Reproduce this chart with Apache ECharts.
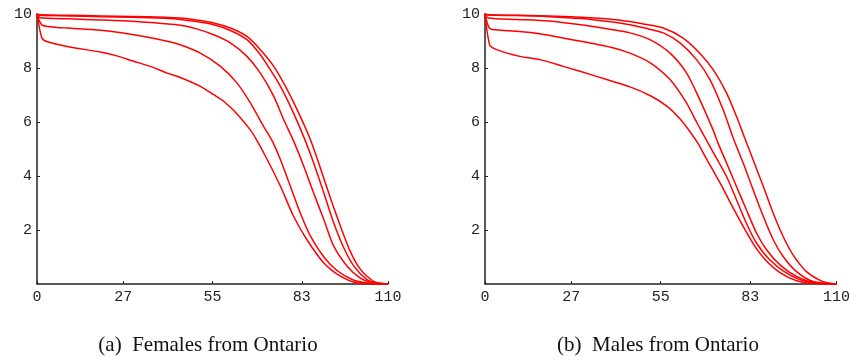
<!DOCTYPE html>
<html>
<head>
<meta charset="utf-8">
<script src="https://cdn.jsdelivr.net/npm/echarts@6/dist/echarts.min.js"></script>
<style>
html,body{margin:0;padding:0;background:#fff;}
#chart{width:853px;height:360px;}
</style>
</head>
<body>
<div id="chart"></div>
<script>
// Tick labels
var xTicks = [0, 27, 55, 83, 110];
var yTicks = [2, 4, 6, 8, 10];
var captions = ['(a)  Females from Ontario', '(b)  Males from Ontario'];

// Females from Ontario: [age, value] pairs
var females1 = [[0,10],[1,9.97],[10,9.95],[20,9.93],[30,9.91],[40,9.88],[45,9.85],[50,9.78],[55.4,9.67],[60.6,9.48],[65.8,9.17],[70,8.68],[74.2,8.06],[78.4,7.2],[82.5,6.21],[85.7,5.34],[88.8,4.3],[91.9,3.2],[95.1,2.14],[98.2,1.2],[101.3,0.55],[105.5,0.1],[110,0]];
var females2 = [[0,10],[1,9.95],[10,9.93],[20,9.9],[30,9.88],[40,9.84],[45,9.8],[50,9.72],[55.4,9.6],[60.6,9.39],[65.8,9.05],[70,8.49],[73.1,7.94],[76.3,7.32],[80.4,6.33],[84.1,5.3],[86.7,4.48],[89.9,3.37],[93,2.26],[96.1,1.35],[99.3,0.66],[103.4,0.16],[106,0.04],[110,0]];
var females3 = [[0,10],[1,9.86],[10,9.82],[20,9.78],[30,9.73],[40,9.64],[45,9.58],[50,9.45],[55.4,9.23],[60.6,8.93],[65.8,8.43],[70,7.81],[74.2,6.95],[77.3,6.09],[80.4,5.3],[83.6,4.36],[86.7,3.37],[89.9,2.38],[93,1.4],[97.2,0.66],[101.3,0.22],[105,0.05],[110,0]];
var females4 = [[0,10],[1.5,9.6],[5,9.52],[9.4,9.48],[19.9,9.4],[30.3,9.23],[40.8,8.99],[44.9,8.86],[51.2,8.55],[57.5,8.06],[62.7,7.44],[66.9,6.7],[71,5.84],[73.7,5.3],[76.3,4.6],[79.4,3.62],[82.5,2.63],[85.7,1.77],[89.9,1.0],[94,0.5],[99.3,0.14],[104,0.03],[110,0]];
var females5 = [[0,10],[1.5,9.12],[3,8.98],[9.4,8.8],[19.9,8.59],[25,8.45],[30.3,8.25],[35.5,8.06],[40.8,7.81],[44.9,7.65],[51.2,7.32],[55.4,7.01],[58.5,6.77],[62.7,6.3],[66.9,5.7],[69,5.3],[72.1,4.62],[76.3,3.62],[80.4,2.51],[84.6,1.64],[89.9,0.78],[95.1,0.29],[100.3,0.04],[110,0]];

// Males from Ontario: [age, value] pairs
var males1 = [[0,10],[1,9.97],[10,9.95],[20,9.93],[30,9.88],[40,9.8],[45.35,9.72],[50,9.62],[55.8,9.48],[62,9.11],[67.2,8.55],[71.4,7.94],[75.6,7.07],[78.7,6.21],[81.3,5.4],[83.9,4.6],[87.1,3.61],[90.2,2.62],[93.3,1.76],[96.4,1.08],[100.6,0.46],[105.8,0.09],[110,0]];
var males2 = [[0,10],[1,9.96],[10,9.94],[20,9.9],[30,9.83],[40,9.7],[45.35,9.6],[50,9.48],[55.8,9.3],[61,8.93],[66.2,8.31],[70.4,7.57],[74.5,6.46],[77.7,5.4],[80.8,4.48],[83.9,3.49],[87.1,2.5],[90.2,1.64],[93.3,1.02],[97.5,0.46],[102.7,0.09],[110,0]];
var males3 = [[0,10],[1,9.85],[10,9.8],[20,9.74],[30,9.6],[40,9.42],[45.35,9.3],[51.6,9.05],[57.9,8.55],[63.1,7.81],[67.2,6.83],[71.4,5.7],[73,5.2],[75.6,4.48],[78.7,3.61],[81.8,2.75],[85,1.88],[88.1,1.27],[92.3,0.71],[97.5,0.28],[103.7,0.03],[110,0]];
var males4 = [[0,10],[1.5,9.46],[5,9.4],[10,9.36],[17,9.27],[30,8.99],[40,8.75],[45.35,8.55],[51.6,8.2],[57.9,7.57],[63.1,6.7],[66.2,6.0],[69.9,5.2],[72.5,4.65],[75.6,3.98],[78.7,3.12],[81.8,2.25],[85,1.51],[89.1,0.9],[94.4,0.4],[100.6,0.09],[110,0]];
var males5 = [[0,10],[1.5,8.85],[3.6,8.68],[10.9,8.43],[17.2,8.31],[24.5,8.06],[34.9,7.69],[45.35,7.3],[51.6,6.98],[56.8,6.6],[61,6.12],[64.1,5.65],[66.7,5.2],[69,4.7],[71.4,4.2],[74,3.65],[76.6,3.05],[79.8,2.35],[82.9,1.7],[85,1.3],[88.1,0.85],[92.3,0.42],[97.5,0.12],[103.7,0.01],[110,0]];

var femaleSeries = [females1, females2, females3, females4, females5];
var maleSeries = [males1, males2, males3, males4, males5];

var axisColor = '#222';
var labelFont = 'Liberation Mono';

function makeX(idx) {
  return {
    type: 'value', gridIndex: idx, min: 0, max: 110,
    axisLine: { show: true, onZero: false, lineStyle: { color: axisColor, width: 1.5 } },
    axisTick: { show: true, inside: true, length: 3, customValues: xTicks, lineStyle: { color: axisColor, width: 1 } },
    axisLabel: { customValues: xTicks, fontFamily: labelFont, fontSize: 15, color: axisColor, margin: 6 },
    splitLine: { show: false }
  };
}
function makeY(idx) {
  return {
    type: 'value', gridIndex: idx, min: 0, max: 10, interval: 2,
    axisLine: { show: true, onZero: false, lineStyle: { color: axisColor, width: 1.5 } },
    axisTick: { show: true, inside: true, length: 3, customValues: yTicks, lineStyle: { color: axisColor, width: 1 } },
    axisLabel: { customValues: yTicks, fontFamily: labelFont, fontSize: 15, color: axisColor, margin: 5 },
    splitLine: { show: false }
  };
}

var series = [];
function addSeries(list, idx) {
  list.forEach(function (d) {
    series.push({
      type: 'line', xAxisIndex: idx, yAxisIndex: idx, data: d,
      showSymbol: false, smooth: 0.25,
      lineStyle: { color: '#ff0000', width: 1.5 },
      silent: true
    });
  });
}
addSeries(femaleSeries, 0);
addSeries(maleSeries, 1);

var chart = echarts.init(document.getElementById('chart'), null, { renderer: 'canvas' });
chart.setOption({
  animation: false,
  backgroundColor: '#fff',
  grid: [
    { left: 37, top: 14, width: 351, height: 270 },
    { left: 485, top: 14, width: 352, height: 270 }
  ],
  xAxis: [makeX(0), makeX(1)],
  yAxis: [makeY(0), makeY(1)],
  series: series,
  graphic: [
    { type: 'text', x: 208, y: 345, style: { text: captions[0], fontFamily: 'Liberation Serif', fontSize: 21, fill: '#111', textAlign: 'center', textVerticalAlign: 'middle' } },
    { type: 'text', x: 658, y: 345, style: { text: captions[1], fontFamily: 'Liberation Serif', fontSize: 21, fill: '#111', textAlign: 'center', textVerticalAlign: 'middle' } }
  ]
});
</script>
</body>
</html>
